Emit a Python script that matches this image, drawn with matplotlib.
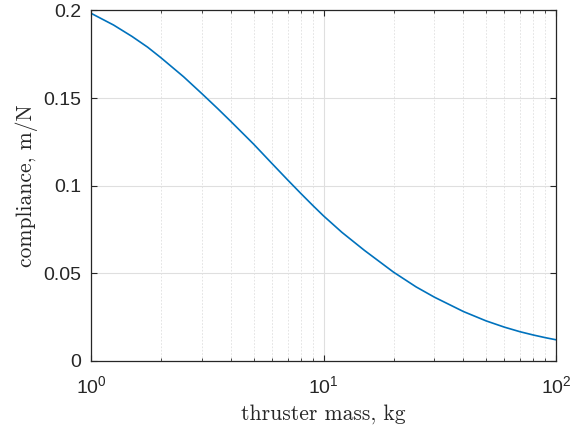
import matplotlib
matplotlib.use('Agg')
import matplotlib.pyplot as plt
from matplotlib.ticker import LogLocator

# thruster mass (kg) and compliance (m/N)
mass = [1, 1.25, 1.5, 1.75, 2, 2.5, 3, 3.5, 4, 5, 6, 7, 8, 9, 10,
        12, 15, 20, 25, 30, 40, 50, 60, 70, 80, 90, 100]
compliance = [0.1984, 0.1917, 0.1852, 0.1791, 0.1730, 0.1622, 0.1525, 0.1441,
              0.1366, 0.1238, 0.1127, 0.1034, 0.0955, 0.0887, 0.0828,
              0.0734, 0.0631, 0.0507, 0.0423, 0.0364, 0.0282, 0.0229,
              0.0193, 0.0167, 0.0148, 0.0133, 0.0121]
y_ticks = [0, 0.05, 0.1, 0.15, 0.2]
y_tick_labels = ['0', '0.05', '0.1', '0.15', '0.2']

plt.rcParams['font.family'] = ['Liberation Sans', 'DejaVu Sans']
plt.rcParams['mathtext.default'] = 'regular'

fig = plt.figure(figsize=(5.8, 4.32), dpi=100)
ax = fig.add_axes([0.157, 0.1644, 0.8016, 0.8113])

ax.semilogx(mass, compliance, color='#0072BD', lw=1.2)

ax.set_xlim(1, 100)
ax.set_ylim(0, 0.2)
ax.set_yticks(y_ticks)
ax.set_yticklabels(y_tick_labels)
ax.xaxis.set_minor_locator(LogLocator(base=10, subs=range(2, 10)))

ax.grid(True, which='major', color='#dfdfdf', lw=0.8)
ax.grid(True, which='minor', axis='x', color='#dfdfdf', lw=0.6, ls=(0, (2, 2)))

for s in ax.spines.values():
    s.set_color('#262626')
    s.set_linewidth(0.9)
ax.tick_params(which='both', direction='in', top=True, right=True,
               colors='#262626', labelsize=14)
ax.tick_params(which='major', length=4.5)
ax.tick_params(axis='y', pad=7)
ax.tick_params(axis='x', pad=10)
ax.tick_params(which='minor', length=2.5)

ax.set_xlabel('thruster mass, kg', family='cmr10', fontsize=15.5, color='#262626',
              labelpad=5)
ax.set_ylabel('compliance, m/N', family='cmr10', fontsize=15.5, color='#262626',
              labelpad=4)

fig.savefig('out.png', dpi=100)
